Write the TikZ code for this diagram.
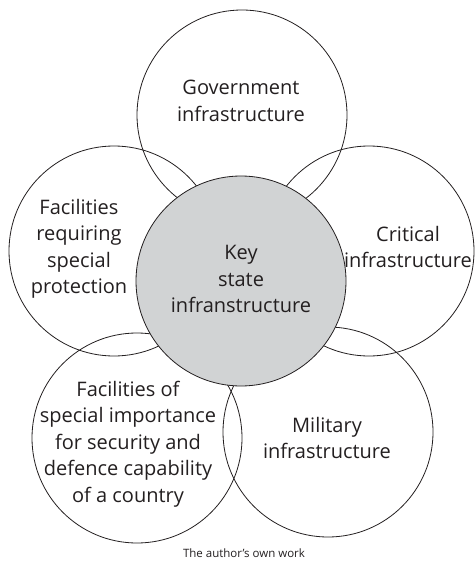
\documentclass[tikz,border=0pt]{standalone}
\usepackage{fontspec}
\setmainfont{Open Sans}
\definecolor{keygrey}{HTML}{D1D3D4}
\definecolor{ink}{HTML}{231F20}

\begin{document}
\begin{tikzpicture}[x = 1pt, y = -1pt,
		ring/.style = {circle, draw = ink, line width = 0.8pt, minimum size = 210pt, inner sep = 0pt},
		lbl/.style = {align = center, text = ink, inner sep = 0pt, font = \fontsize{20}{26.5}\selectfont}]
			\def\W{475};
			\def\H{561};

			\useasboundingbox (0,0) rectangle (\W,\H);

			\begin{scope}
				\node [ring] (gov) at (242,115) {};
				\node [ring] (fac) at (114,251) {};
				\node [ring] (crit) at (369,251) {};
				\node [ring] (imp) at (137,438) {};
				\node [ring] (mil) at (328,432) {};
				\node [ring, fill = keygrey] (key) at (241,281) {};
			\end{scope}

			\begin{scope}
				\node [lbl] (govtext) at (241,101) {Government\\infrastructure};
				\node [lbl] (factext) at (79,249) {Facilities\\requiring\\special\\protection};
				\node [lbl] (crittext) at (408,247) {Critical\\infrastructure};
				\node [lbl] (imptext) at (128,444) {Facilities of\\special importance\\for security and\\defence capability\\of a country};
				\node [lbl] (miltext) at (327,438) {Military\\infrastructure};
				\node [lbl] (keytext) at (241,279) {Key\\state\\infranstructure};
			\end{scope}

			\node [text = ink, font = \fontsize{11.5}{14}\selectfont] (src) at (244,553) {The author’s own work};
		\end{tikzpicture}
\end{document}
